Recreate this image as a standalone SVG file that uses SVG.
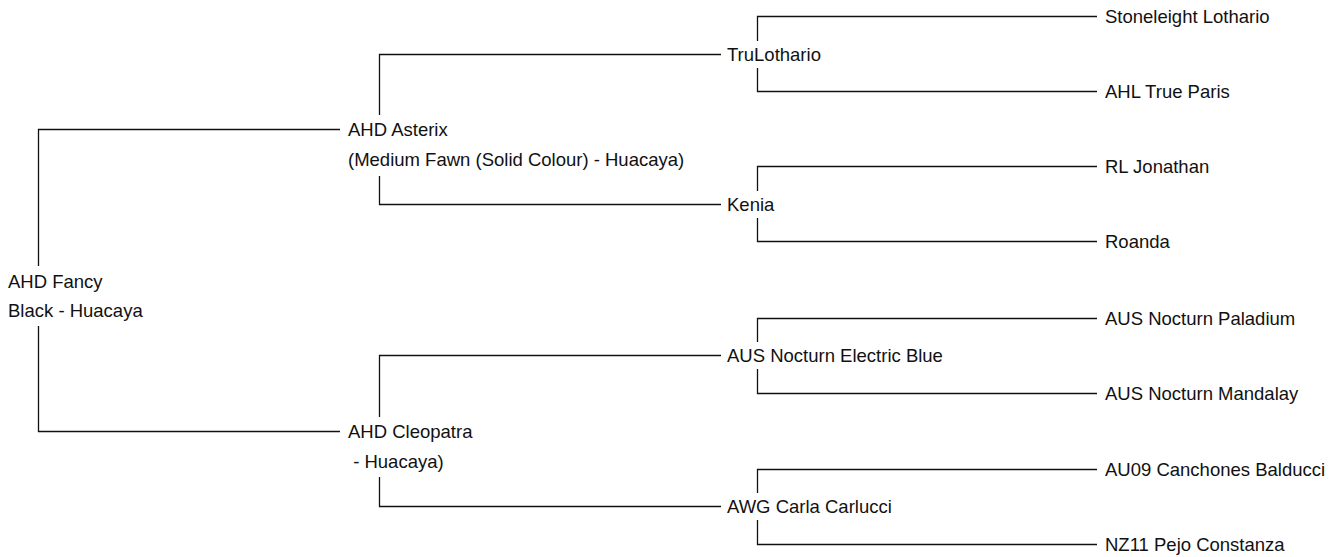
<svg xmlns="http://www.w3.org/2000/svg" width="1335" height="557" viewBox="0 0 1335 557">
<style>
text{font-family:"Liberation Sans",Arial,sans-serif;font-size:18.5px;fill:#111;white-space:pre}
.c{fill:none;stroke:#111;stroke-width:1.3}
</style>
<rect width="1335" height="557" fill="#fff"/>
<g id="connectors">
<path class="c" d="M38.5,266 V129.5 H340 M38.5,326 V431.5 H340"/>
<path class="c" d="M379.5,115 V54.5 H721 M379.5,176 V204.5 H721"/>
<path class="c" d="M379.5,417 V355.5 H721 M379.5,477 V506.5 H721"/>
<path class="c" d="M757.5,41 V16.5 H1097 M757.5,68 V91.5 H1097"/>
<path class="c" d="M757.5,191 V166.5 H1097 M757.5,218 V241.5 H1097"/>
<path class="c" d="M757.5,342 V318.5 H1097 M757.5,369 V393.5 H1097"/>
<path class="c" d="M757.5,493 V469.5 H1097 M757.5,520 V544.5 H1097"/>
</g>
<g id="n-root"><text x="8" y="288">AHD Fancy</text><text x="8" y="317">Black - Huacaya</text></g>
<g id="n-asterix"><text x="348" y="136">AHD Asterix</text><text x="348" y="166">(Medium Fawn (Solid Colour) - Huacaya)</text></g>
<g id="n-cleopatra"><text x="348" y="438">AHD Cleopatra</text><text x="348" y="468"> - Huacaya)</text></g>
<g id="n-trulothario"><text x="727" y="61">TruLothario</text></g>
<g id="n-kenia"><text x="727" y="211">Kenia</text></g>
<g id="n-electricblue"><text x="727" y="362">AUS Nocturn Electric Blue</text></g>
<g id="n-carla"><text x="727" y="513">AWG Carla Carlucci</text></g>
<g id="n-stoneleight"><text x="1105" y="23">Stoneleight Lothario</text></g>
<g id="n-trueparis"><text x="1105" y="98">AHL True Paris</text></g>
<g id="n-jonathan"><text x="1105" y="173">RL Jonathan</text></g>
<g id="n-roanda"><text x="1105" y="248">Roanda</text></g>
<g id="n-paladium"><text x="1105" y="325">AUS Nocturn Paladium</text></g>
<g id="n-mandalay"><text x="1105" y="400">AUS Nocturn Mandalay</text></g>
<g id="n-balducci"><text x="1105" y="476">AU09 Canchones Balducci</text></g>
<g id="n-constanza"><text x="1105" y="551">NZ11 Pejo Constanza</text></g>
</svg>
